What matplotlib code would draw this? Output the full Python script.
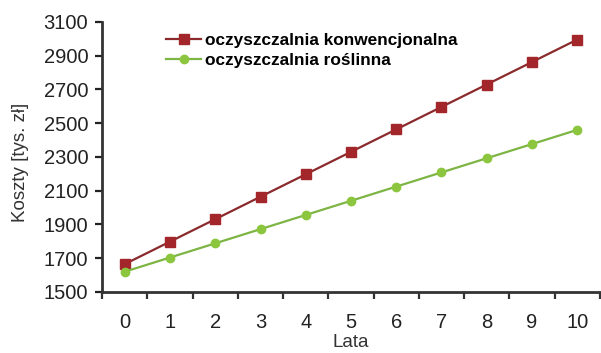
import matplotlib
matplotlib.use("Agg")
import matplotlib.pyplot as plt

years = [0, 1, 2, 3, 4, 5, 6, 7, 8, 9, 10]
konwencjonalna = [1665, 1798, 1931, 2064, 2197, 2330, 2463, 2596, 2729, 2862, 2995]
roslinna = [1620, 1704, 1788, 1872, 1956, 2040, 2124, 2208, 2292, 2376, 2460]
yticks = [1500, 1700, 1900, 2100, 2300, 2500, 2700, 2900, 3100]

plt.rcParams['font.family'] = ['Liberation Sans', 'DejaVu Sans']

fig = plt.figure(figsize=(6.01, 3.53), dpi=100)
ax = fig.add_axes([0.170, 0.173, 0.828, 0.765])

ax.plot(years, konwencjonalna, color='#8B2A2C', marker='s', markersize=6.5,
        markerfacecolor='#A3262B', markeredgecolor='#A3262B', linewidth=1.6,
        label='oczyszczalnia konwencjonalna')
ax.plot(years, roslinna, color='#7DB544', marker='o', markersize=6,
        markerfacecolor='#8CC63E', markeredgecolor='#8CC63E', linewidth=1.6,
        label='oczyszczalnia roślinna')

ax.set_xlim(-0.5, 10.5)
ax.set_ylim(1500, 3100)
ax.set_yticks(yticks)
ax.set_xticks([x for x in years])
ax.set_xticks([x - 0.5 for x in years] + [10.5], minor=True)
ax.tick_params(axis='x', which='major', length=0, pad=15, labelsize=14.5, colors='#222222')
ax.tick_params(axis='x', which='minor', length=5, width=1.6, direction='out', color='#333333')
ax.tick_params(axis='y', length=5, width=1.6, direction='out', labelsize=14.5,
               colors='#222222', pad=5)

for s in ['top', 'right']:
    ax.spines[s].set_visible(False)
for s in ['left', 'bottom']:
    ax.spines[s].set_linewidth(2)
    ax.spines[s].set_color('#333333')

ax.set_ylabel('Koszty [tys. zł]', fontsize=13.5, color='#333333')
ax.yaxis.set_label_coords(-0.148, 0.48)
ax.set_xlabel('Lata', fontsize=13.5, color='#333333')
ax.xaxis.set_label_coords(0.5, -0.155)

leg = ax.legend(loc='upper left', bbox_to_anchor=(0.115, 0.985), frameon=False,
                prop={'weight': 'bold', 'size': 12.4}, handlelength=2.0,
                handletextpad=0.25, labelspacing=0.3, borderaxespad=0)

fig.savefig('out.png', dpi=100)
